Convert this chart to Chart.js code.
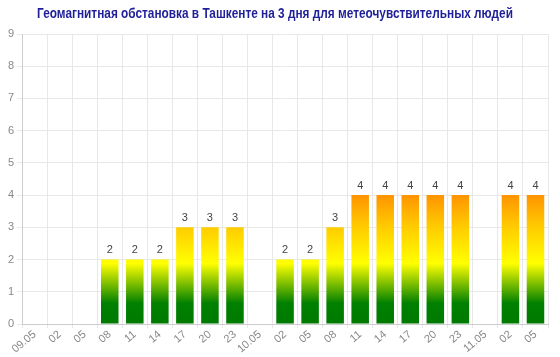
<!DOCTYPE html>
<html><head><meta charset="utf-8">
<script src="https://cdn.jsdelivr.net/npm/chart.js@4/dist/chart.umd.min.js"></script>
<style>html,body{margin:0;padding:0;background:#fff}#w{width:560px;height:357px}</style>
</head><body><div id="w"><canvas id="c"></canvas></div>
<script>
const title = "Геомагнитная обстановка в Ташкенте на 3 дня для метеочувствительных людей";
const categories = ["09.05","02","05","08","11","14","17","20","23","10.05","02","05","08","11","14","17","20","23","11.05","02","05"];
const kpValues = [null,null,null,2,2,2,3,3,3,null,2,2,3,4,4,4,4,4,null,4,4];
const yTicks = [0,1,2,3,4,5,6,7,8,9];

function grad(ctx){
  const ch = ctx.chart; const ca = ch.chartArea; const y = ch.scales.y;
  if(!ca || !y) return '#008000';
  const y0 = y.getPixelForValue(0), y4 = y.getPixelForValue(4);
  const g = ch.ctx.createLinearGradient(0,y0,0,y4);
  g.addColorStop(0,'#007a00');
  g.addColorStop(0.16,'#008000');
  g.addColorStop(0.47,'#ffff00');
  g.addColorStop(0.75,'#ffcc00');
  g.addColorStop(1,'#ff9400');
  return g;
}
const labelPlugin = {
  id:'vals',
  afterDatasetsDraw(ch){
    const c = ch.ctx; const meta = ch.getDatasetMeta(0);
    c.save(); c.font = '11px Arial, "Liberation Sans"'; c.fillStyle='#444'; c.textAlign='center'; c.textBaseline='bottom';
    meta.data.forEach((el,i)=>{ const v = kpValues[i]; if(v==null) return; c.fillText(String(v), el.x, el.y-4); });
    c.restore();
  },
  afterDraw(ch){
    const c = ch.ctx;
    c.save();
    c.font = 'bold 14px Arial, "Liberation Sans"';
    c.fillStyle = '#1f1f99'; c.textAlign='center'; c.textBaseline='middle';
    c.translate(275, 14); c.scale(0.845, 1);
    c.fillText(title, 0, 0);
    c.restore();
  }
};
new Chart(document.getElementById('c'),{
  type:'bar',
  data:{labels:categories,datasets:[{data:kpValues,backgroundColor:grad,borderWidth:0,barPercentage:0.7,categoryPercentage:1}]},
  options:{
    responsive:true,maintainAspectRatio:false,animation:false,
    layout:{padding:{left:5,right:12,top:34,bottom:0}},
    plugins:{legend:{display:false},tooltip:{enabled:false},title:{display:false}},
    scales:{
      x:{grid:{color:'#e8e8e8',offset:true,tickLength:4},border:{color:'#cccccc'},
         afterFit(s){s.height=33;},
         ticks:{color:'#888',font:{family:'Arial, "Liberation Sans"',size:11},maxRotation:40,minRotation:40,autoSkip:false,padding:0}},
      y:{min:0,max:9,grid:{color:'#e8e8e8',tickLength:5},border:{color:'#cccccc'},
         afterBuildTicks(s){s.ticks=yTicks.map(v=>({value:v}));},
         ticks:{color:'#888',font:{family:'Arial, "Liberation Sans"',size:11},padding:3}}
    }
  },
  plugins:[labelPlugin]
});
</script></body></html>
